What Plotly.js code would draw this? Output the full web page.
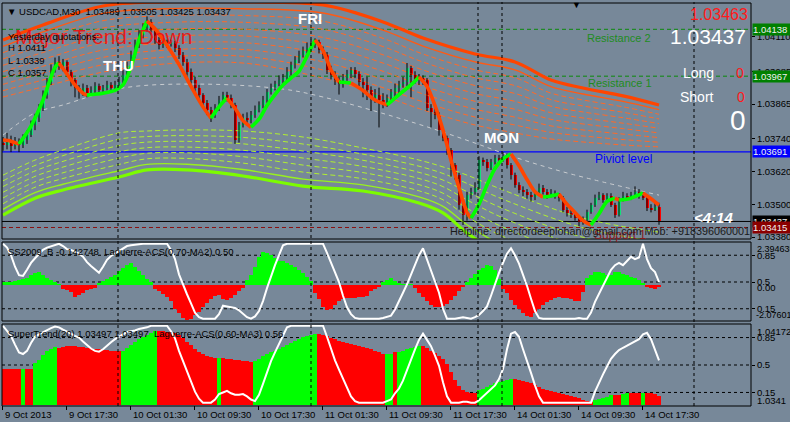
<!DOCTYPE html>
<html><head><meta charset="utf-8">
<script src="https://cdn.plot.ly/plotly-3.0.1.min.js"></script>
<style>html,body{margin:0;padding:0;background:#778899;}#chart{width:790px;height:422px;}</style>
</head><body><div id="chart"></div>
<script>
// ---------------- DATA ----------------
const firstOpen = 1.03725;
const closes = [1.03716,1.03734,1.03712,1.03727,1.03716,1.03734,1.03752,1.03789,1.03814,1.03851,
1.03898,1.03946,1.03990,1.04019,1.04004,1.04019,1.03982,1.03953,1.03924,1.03909,
1.03924,1.03906,1.03917,1.03931,1.03917,1.03924,1.03935,1.03924,1.03935,1.03946,
1.03971,1.04004,1.04044,1.04081,1.04117,1.04143,1.04165,1.04136,1.04099,1.04081,
1.04092,1.04084,1.04088,1.04070,1.04044,1.04019,1.03982,1.03953,1.03924,1.03898,
1.03869,1.03844,1.03825,1.03851,1.03880,1.03898,1.03887,1.03862,1.03734,1.03789,
1.03814,1.03807,1.03825,1.03844,1.03862,1.03880,1.03909,1.03924,1.03938,1.03953,
1.03960,1.03982,1.04008,1.04026,1.04044,1.04063,1.04070,1.04081,1.04092,1.04063,
1.04044,1.03990,1.03971,1.03953,1.03938,1.03960,1.03975,1.03990,1.03975,1.03946,
1.03935,1.03917,1.03887,1.03898,1.03880,1.03869,1.03887,1.03909,1.03924,1.03938,
1.03946,1.03997,1.03971,1.03953,1.03960,1.03953,1.03851,1.03836,1.03825,1.03771,
1.03741,1.03698,1.03643,1.03606,1.03497,1.03460,1.03533,1.03544,1.03559,1.03661,
1.03654,1.03632,1.03654,1.03668,1.03661,1.03676,1.03643,1.03606,1.03570,1.03552,
1.03544,1.03533,1.03526,1.03537,1.03559,1.03544,1.03533,1.03541,1.03530,1.03522,
1.03479,1.03468,1.03460,1.03449,1.03434,1.03442,1.03471,1.03497,1.03522,1.03533,
1.03515,1.03530,1.03497,1.03460,1.03515,1.03530,1.03522,1.03533,1.03544,1.03530,
1.03522,1.03486,1.03479,1.03489,1.03437];
const highs = [1.03745,1.03760,1.03750,1.03745,1.03740,1.03755,1.03770,1.03805,1.03830,1.03865,
1.03915,1.03960,1.04010,1.04035,1.04040,1.04030,1.04025,1.03990,1.03960,1.03935,
1.03940,1.03935,1.03930,1.03945,1.03940,1.03935,1.03950,1.03945,1.03950,1.03965,
1.03990,1.04020,1.04060,1.04100,1.04135,1.04160,1.04185,1.04175,1.04145,1.04110,
1.04105,1.04100,1.04100,1.04095,1.04080,1.04055,1.04030,1.03995,1.03965,1.03935,
1.03905,1.03880,1.03855,1.03865,1.03895,1.03910,1.03910,1.03900,1.03870,1.03800,
1.03830,1.03835,1.03840,1.03860,1.03875,1.03895,1.03920,1.03940,1.03950,1.03970,
1.03975,1.04000,1.04020,1.04040,1.04060,1.04075,1.04090,1.04100,1.04105,1.04100,
1.04075,1.04055,1.04005,1.03985,1.03965,1.03975,1.03990,1.04000,1.04000,1.03985,
1.03960,1.03965,1.03930,1.03920,1.03925,1.03905,1.03900,1.03920,1.03940,1.03950,
1.03965,1.04015,1.04005,1.03985,1.03975,1.03970,1.03960,1.03865,1.03850,1.03835,
1.03780,1.03750,1.03705,1.03650,1.03615,1.03505,1.03545,1.03560,1.03580,1.03675,
1.03670,1.03665,1.03665,1.03680,1.03680,1.03690,1.03685,1.03650,1.03615,1.03580,
1.03565,1.03555,1.03545,1.03550,1.03575,1.03570,1.03555,1.03555,1.03550,1.03540,
1.03530,1.03490,1.03480,1.03470,1.03455,1.03455,1.03480,1.03505,1.03535,1.03545,
1.03540,1.03540,1.03540,1.03505,1.03525,1.03545,1.03540,1.03545,1.03565,1.03555,
1.03545,1.03530,1.03500,1.03505,1.03505];
const lows = [1.03695,1.03700,1.03690,1.03700,1.03690,1.03705,1.03720,1.03745,1.03770,1.03800,
1.03840,1.03885,1.03935,1.03980,1.03990,1.03985,1.03965,1.03930,1.03890,1.03885,
1.03895,1.03890,1.03895,1.03905,1.03905,1.03905,1.03915,1.03910,1.03915,1.03920,
1.03935,1.03960,1.03995,1.04035,1.04070,1.04105,1.04130,1.04120,1.04085,1.04065,
1.04070,1.04070,1.04075,1.04055,1.04030,1.04005,1.03970,1.03940,1.03905,1.03880,
1.03850,1.03825,1.03800,1.03815,1.03840,1.03870,1.03875,1.03850,1.03720,1.03725,
1.03780,1.03790,1.03795,1.03815,1.03835,1.03850,1.03870,1.03900,1.03915,1.03930,
1.03940,1.03950,1.03970,1.03995,1.04015,1.04035,1.04050,1.04060,1.04070,1.04050,
1.04030,1.03975,1.03955,1.03935,1.03900,1.03925,1.03950,1.03960,1.03960,1.03930,
1.03890,1.03880,1.03840,1.03870,1.03780,1.03850,1.03855,1.03875,1.03890,1.03905,
1.03925,1.03930,1.03890,1.03940,1.03935,1.03935,1.03840,1.03780,1.03810,1.03750,
1.03730,1.03680,1.03600,1.03590,1.03480,1.03424,1.03440,1.03520,1.03535,1.03555,
1.03640,1.03620,1.03625,1.03645,1.03650,1.03655,1.03630,1.03590,1.03560,1.03540,
1.03530,1.03520,1.03510,1.03515,1.03530,1.03535,1.03520,1.03525,1.03520,1.03510,
1.03470,1.03455,1.03450,1.03440,1.03420,1.03425,1.03435,1.03465,1.03490,1.03515,
1.03505,1.03505,1.03490,1.03450,1.03455,1.03510,1.03515,1.03515,1.03525,1.03520,
1.03515,1.03475,1.03470,1.03475,1.03425];

// smoothed trend line (turning points), direction of the segment that follows
const trendBar = [0,2,4,7,10,13,14,16,18,20,21,25,28,30,32,34,36,38,41,44,47,50,52,54,56,58,60,62,64,66,68,70,72,74,76,78,80,82,84,87,90,93,96,99,102,104,106,108,110,112,114,116,117,119,121,123,125,127,129,131,133,135,137,139,141,143,145,147,149,151,153,154,157,160,162,164];
const trendPrice = [1.03734,1.03730,1.03719,1.03785,1.03880,1.04000,1.04015,1.03975,1.03935,1.03905,1.03898,1.03905,1.03915,1.03935,1.04000,1.04100,1.04168,1.04140,1.04080,1.04010,1.03930,1.03855,1.03814,1.03855,1.03887,1.03850,1.03805,1.03781,1.03810,1.03860,1.03900,1.03935,1.03960,1.03985,1.04040,1.04099,1.04060,1.03990,1.03946,1.03942,1.03915,1.03880,1.03862,1.03900,1.03935,1.03964,1.03930,1.03860,1.03771,1.03660,1.03560,1.03470,1.03449,1.03500,1.03570,1.03630,1.03665,1.03683,1.03640,1.03590,1.03545,1.03526,1.03530,1.03537,1.03500,1.03470,1.03440,1.03424,1.03465,1.03510,1.03522,1.03515,1.03522,1.03541,1.03520,1.03497];
const trendDir = ['d','d','u','u','u','u','d','d','d','d','u','u','u','u','u','u','d','d','d','d','d','d','u','u','d','d','d','u','u','u','u','u','u','u','u','d','d','d','u','d','d','d','u','u','u','d','d','d','d','d','d','d','u','u','u','u','u','d','d','d','d','u','u','d','d','d','d','u','u','u','d','u','u','d','d','d'];

// channel bands (read at key bars)
const orangeBars  = [0,10,25,40,60,80,95,105,118,128,137,145,155,164];
const orangeOuter = [1.04099,1.04154,1.04223,1.04238,1.04238,1.04227,1.04165,1.04106,1.04048,1.04019,1.03953,1.03924,1.03895,1.03862];
const orangeInner = [1.03891,1.03928,1.03982,1.04011,1.04015,1.03960,1.03895,1.03844,1.03789,1.03760,1.03738,1.03727,1.03716,1.03709];
const greenBars   = [0,8,15,29,36,46,60,75,90,104,110,116,125,145,164];
const greenOuter  = [1.03460,1.03522,1.03552,1.03599,1.03625,1.03625,1.03603,1.03566,1.03548,1.03504,1.03468,1.03395,1.03314,1.03205,1.03150];
const greenInner  = [1.03606,1.03661,1.03698,1.03760,1.03767,1.03771,1.03767,1.03745,1.03705,1.03661,1.03636,1.03606,1.03552,1.03449,1.03398];
const centerBars  = [0,8,15,30,50,70,80,103,118,127,141,164];
const centerLine  = [1.03752,1.03833,1.03862,1.03924,1.03938,1.03920,1.03891,1.03796,1.03723,1.03676,1.03614,1.03533];

// levels
const resistance2 = 1.04138, resistance1 = 1.03967, pivotLevel = 1.03691, support1 = 1.03415;
const priceTicks = [1.04110,1.03985,1.03865,1.03740,1.03620,1.03500,1.03380];
const priceTickText = ['1.04110','1.03985','1.03865','1.03740','1.03620','1.03500','1.03380'];

// indicator 1: SS2009_B histogram and Laguerre-ACS(0.70)
const ssb = [0.17,0.17,0.17,0.23,0.29,0.34,0.40,0.57,0.69,0.74,
0.57,0.40,0.29,0.17,0.06,-0.23,-0.29,-0.40,-0.69,-0.57,
-0.46,-0.29,-0.23,-0.17,0.11,0.23,0.34,0.46,0.57,0.80,
0.97,1.15,1.26,1.03,0.80,0.57,0.34,0.17,-0.23,-0.34,
-0.52,-0.69,-0.92,-1.38,-1.60,-1.89,-2.01,-1.95,-1.72,-1.55,
-1.26,-1.03,-0.80,-0.63,-0.57,-0.80,-0.86,-0.74,-0.57,-0.34,
-0.17,0.29,0.57,1.03,1.60,1.89,1.83,1.72,1.55,1.38,
1.38,1.26,1.15,1.03,0.86,0.69,0.46,0.23,-0.46,-0.80,
-1.26,-1.43,-1.38,-1.15,-0.92,-0.80,-0.74,-0.74,-0.74,-0.69,
-0.69,-0.63,-0.34,-0.23,-0.11,0.17,0.29,0.40,0.23,0.11,
0.06,0.06,0.06,-0.17,-0.46,-0.69,-0.92,-1.15,-1.26,-1.26,
-1.20,-1.09,-0.86,-0.63,-0.34,-0.11,0.17,0.40,0.63,0.86,
0.97,1.15,1.09,0.86,0.34,-0.23,-0.46,-0.86,-1.15,-1.38,
-1.60,-1.78,-1.83,-1.60,-1.38,-1.15,-0.97,-0.86,-0.74,-0.69,
-0.74,-0.74,-0.80,-0.92,-0.92,-0.40,0.40,0.57,0.74,0.74,
0.69,0.57,0.57,0.74,0.74,0.63,0.57,0.46,0.40,0.29,
0.11,-0.11,-0.17,-0.23,-0.14];
const lag1 = [1.0,0.95,0.85,0.70,0.59,0.58,0.66,0.75,0.81,0.87,
0.92,0.95,0.97,0.98,1.0,0.97,0.93,0.92,0.90,0.87,
0.83,0.76,0.71,0.66,0.62,0.70,0.79,0.84,0.87,0.91,
0.94,0.97,0.98,0.99,1.0,1.0,1.0,1.0,1.0,1.0,
1.0,1.0,0.92,0.80,0.60,0.46,0.34,0.22,0.10,0.04,
0.02,0.02,0.02,0.02,0.08,0.19,0.18,0.17,0.16,0.13,
0.08,0.04,0.02,0.05,0.12,0.25,0.42,0.58,0.72,0.85,
0.98,1.0,1.0,1.0,1.0,1.0,1.0,1.0,1.0,1.0,
1.0,0.88,0.75,0.62,0.50,0.32,0.17,0.08,0.03,0.02,
0.02,0.02,0.02,0.02,0.02,0.03,0.05,0.06,0.14,0.24,
0.36,0.47,0.60,0.72,0.85,0.94,0.80,0.64,0.50,0.36,
0.15,0.02,0.02,0.02,0.03,0.04,0.03,0.02,0.04,0.07,
0.12,0.18,0.32,0.48,0.62,0.75,0.87,0.94,0.85,0.74,
0.60,0.45,0.28,0.12,0.03,0.02,0.02,0.02,0.02,0.02,
0.02,0.02,0.02,0.02,0.03,0.02,0.02,0.10,0.24,0.35,
0.44,0.55,0.66,0.72,0.75,0.72,0.78,0.83,0.80,0.82,
1.0,0.80,0.68,0.63,0.50];

// indicator 2: SuperTrend(20) histogram and Laguerre-ACS(0.60)
const superTrend = [1.03757,1.03757,1.03757,1.03757,1.03757,1.03757,1.03757,1.03757,1.03806,1.03835,
1.03883,1.03921,1.03941,1.03960,1.03950,1.03960,1.03970,1.03970,1.03970,1.03960,
1.03960,1.03950,1.03950,1.03941,1.03941,1.03931,1.03931,1.03921,1.03921,1.03921,
1.03921,1.03950,1.03979,1.04008,1.04037,1.04057,1.04076,1.04095,1.04114,1.04114,
1.04114,1.04105,1.04105,1.04095,1.04076,1.04047,1.04008,1.03979,1.03941,1.03912,
1.03893,1.03873,1.03864,1.03854,1.03854,1.03854,1.03844,1.03844,1.03835,1.03835,
1.03825,1.03825,1.03815,1.03825,1.03844,1.03873,1.03893,1.03912,1.03921,1.03941,
1.03960,1.03979,1.03999,1.04018,1.04037,1.04057,1.04066,1.04076,1.04086,1.04086,
1.04076,1.04066,1.04047,1.04037,1.04018,1.04008,1.03999,1.03989,1.03979,1.03970,
1.03960,1.03950,1.03941,1.03921,1.03912,1.03893,1.03893,1.03893,1.03912,1.03912,
1.03921,1.03941,1.03950,1.03960,1.03970,1.03970,1.03950,1.03921,1.03902,1.03873,
1.03844,1.03796,1.03728,1.03651,1.03593,1.03555,1.03535,1.03526,1.03526,1.03555,
1.03564,1.03584,1.03603,1.03622,1.03632,1.03642,1.03651,1.03661,1.03661,1.03651,
1.03642,1.03632,1.03622,1.03603,1.03584,1.03564,1.03555,1.03545,1.03535,1.03526,
1.03516,1.03507,1.03497,1.03487,1.03478,1.03458,1.03449,1.03439,1.03458,1.03468,
1.03478,1.03487,1.03507,1.03507,1.03507,1.03516,1.03526,1.03526,1.03526,1.03526,
1.03526,1.03526,1.03526,1.03516,1.03497];
const superTrendSide = ('RRRRR'+'G'+'RR'+'GGGGGG'+'RRRRRRRRRRRRRRRR'+'GGGGGGGGG'+'RRRRRRRRRRRRRRR'+'G'+'RRRRRRRR'+
  'GGGGGGGGGGGGGGGG'+'RRRRRRRRRRRRRRRRR'+'GG'+'R'+'GGGGGG'+'RRRRRRRRRRRRRR'+'GGGGGGGGG'+'RRRRRRRRRRRRRRRRRRRR'+
  'GGGGG'+'RR'+'GG'+'RRR'+'G'+'RRRR').split('');
const lag2 = [1.0,0.94,0.87,0.76,0.66,0.64,0.68,0.78,0.86,0.89,
0.92,0.95,0.97,0.99,0.98,0.95,0.93,0.90,0.87,0.85,
0.80,0.75,0.71,0.68,0.67,0.70,0.75,0.79,0.83,0.86,
0.89,0.92,0.93,0.94,0.96,0.97,0.98,1.0,1.0,1.0,
1.0,1.0,0.93,0.84,0.68,0.55,0.40,0.27,0.16,0.07,
0.02,0.02,0.02,0.06,0.13,0.15,0.17,0.14,0.12,0.12,
0.13,0.10,0.06,0.04,0.12,0.26,0.40,0.55,0.66,0.76,
0.88,0.98,1.0,1.0,1.0,1.0,1.0,1.0,1.0,1.0,
1.0,0.86,0.70,0.56,0.44,0.33,0.20,0.10,0.04,0.02,
0.02,0.02,0.02,0.02,0.02,0.02,0.04,0.06,0.14,0.20,
0.30,0.44,0.58,0.70,0.82,0.90,0.82,0.74,0.62,0.49,
0.28,0.10,0.02,0.02,0.02,0.03,0.03,0.02,0.02,0.05,
0.10,0.14,0.19,0.24,0.32,0.45,0.70,0.90,0.92,0.86,
0.70,0.56,0.40,0.24,0.10,0.02,0.02,0.02,0.02,0.02,
0.02,0.02,0.02,0.02,0.02,0.02,0.02,0.02,0.16,0.28,
0.38,0.48,0.58,0.64,0.69,0.72,0.75,0.78,0.81,0.83,
0.89,0.91,0.83,0.70,0.56];

// time axis
const tickBars = [0,16,32,48,64,80,96,112,128,144,160];
const tickLabels = ['9 Oct 2013','9 Oct 17:30','10 Oct 01:30','10 Oct 09:30','10 Oct 17:30','11 Oct 01:30','11 Oct 09:30','11 Oct 17:30','14 Oct 01:30','14 Oct 09:30','14 Oct 17:30'];
const daySeparators = [28.75, 77, 118.75, 124.75, 172.75];

// ---------------- BUILD ----------------
const W = 790, H = 422;
const px = x => x / W, py = y => 1 - y / H;
const FONT = 'Liberation Sans, Arial, sans-serif';
const BG = '#778899';
const n = closes.length;
const bars = closes.map((_, i) => i);
const opens = [firstOpen].concat(closes.slice(0, -1));
const traces = [];

function band(keyBars, outer, inner, count, thickColor, thinColor, dashColor) {
  for (let k = count - 1; k >= 0; k--) {
    const y = outer.map((o, j) => o + (inner[j] - o) * k / (count - 1));
    let line;
    if (k === 0) line = {color: thickColor, width: 3.2, shape: 'spline'};
    else if (k === 1) line = {color: thinColor, width: 1.4, shape: 'spline'};
    else line = {color: dashColor, width: 1, dash: '5px,3px', shape: 'spline'};
    traces.push({type: 'scatter', mode: 'lines', x: keyBars, y: y, xaxis: 'x', yaxis: 'y', line: line, hoverinfo: 'skip'});
  }
}
band(orangeBars, orangeOuter, orangeInner, 10, '#FF4500', '#FF5A14', '#FF6A28');
band(greenBars, greenOuter, greenInner, 8, '#7CFC00', '#98F020', '#B0F030');
traces.push({type: 'scatter', mode: 'lines', x: centerBars, y: centerLine, xaxis: 'x', yaxis: 'y',
  line: {color: '#C8CCD0', width: 1, dash: '4px,4px', shape: 'spline'}, hoverinfo: 'skip'});

// wicks
const wx = [], wy = [];
for (let i = 0; i < n; i++) { wx.push(i, i, null); wy.push(lows[i], highs[i], null); }
traces.push({type: 'scatter', mode: 'lines', x: wx, y: wy, xaxis: 'x', yaxis: 'y', line: {color: '#000', width: 1}, hoverinfo: 'skip'});
// bodies
traces.push({type: 'bar', x: bars, xaxis: 'x', yaxis: 'y',
  base: bars.map(i => Math.min(opens[i], closes[i])),
  y: bars.map(i => Math.max(Math.abs(closes[i] - opens[i]), 0.00003)),
  width: 0.75,
  marker: {color: bars.map(i => closes[i] >= opens[i] ? '#14E07A' : '#FF0000'), line: {width: 0}},
  hoverinfo: 'skip'});

// trend line segments
const trendColor = {u: '#00FF00', d: '#FF4500'};
const segs = [];
let cur = {c: trendDir[0], x: [trendBar[0]], y: [trendPrice[0]]};
for (let i = 1; i < trendBar.length; i++) {
  cur.x.push(trendBar[i]); cur.y.push(trendPrice[i]);
  if (i < trendBar.length - 1 && trendDir[i] !== cur.c) {
    segs.push(cur);
    cur = {c: trendDir[i], x: [trendBar[i]], y: [trendPrice[i]]};
  }
}
segs.push(cur);
segs.forEach(s => traces.push({type: 'scatter', mode: 'lines', x: s.x, y: s.y, xaxis: 'x', yaxis: 'y',
  line: {color: trendColor[s.c], width: 3.6, shape: 'spline', smoothing: 0.8}, hoverinfo: 'skip'}));

// panel 1
traces.push({type: 'bar', x: bars, y: ssb, xaxis: 'x', yaxis: 'y2', width: 1,
  marker: {color: ssb.map(v => v >= 0 ? '#00FF00' : '#FF0000'), line: {width: 0}}, hoverinfo: 'skip'});
traces.push({type: 'scatter', mode: 'lines', x: bars, y: lag1, xaxis: 'x', yaxis: 'y3',
  line: {color: '#FFFFFF', width: 2}, hoverinfo: 'skip'});
// panel 2
const stBase = 1.0341, stTop = 1.04172;
traces.push({type: 'bar', x: bars, y: superTrend.map(v => v - stBase), base: stBase, xaxis: 'x', yaxis: 'y4', width: 1,
  marker: {color: superTrendSide.map(s => s === 'G' ? '#00FF00' : '#FF0000'), line: {width: 0}}, hoverinfo: 'skip'});
traces.push({type: 'scatter', mode: 'lines', x: bars, y: lag2, xaxis: 'x', yaxis: 'y5',
  line: {color: '#FFFFFF', width: 2}, hoverinfo: 'skip'});

// ---------------- LAYOUT ----------------
const X0 = px(2), X1 = px(751);
const mainDom = [py(239), py(3)], p1Dom = [py(321), py(243)], p2Dom = [py(405), py(325)];
const tickFont = {family: FONT, size: 9.5, color: '#000'};
const subTicks = {tickvals: [0.15, 0.5, 0.85], ticktext: ['0.15', '0.5', '0.85']};

const shapes = [];
function hline(yref, y, color, width, dash) {
  shapes.push({type: 'line', xref: 'paper', x0: X0, x1: X1, yref: yref, y0: y, y1: y, line: {color: color, width: width, dash: dash}, layer: 'below'});
}
hline('y', resistance2, '#0A8A0A', 1, '4px,3px');
hline('y', resistance1, '#0A8A0A', 1, '4px,3px');
hline('y', pivotLevel, '#0000FF', 1.3, 'solid');
hline('y', closes[n - 1], '#000000', 1, 'solid');
hline('y', support1, '#8B1010', 1, '4px,3px');
[0.15, 0.5, 0.85].forEach(v => { hline('y3', v, '#000', 1, '3px,3px'); hline('y5', v, '#000', 1, '3px,3px'); });
daySeparators.forEach(b => shapes.push({type: 'line', xref: 'x', x0: b, x1: b, yref: 'paper', y0: py(406), y1: py(2),
  line: {color: '#000', width: 1, dash: '3px,3px'}}));
[[3, 239], [242, 321], [324, 406]].forEach(([t, b]) => shapes.push({type: 'rect', xref: 'paper', yref: 'paper',
  x0: X0, x1: X1, y0: py(b), y1: py(t), line: {color: '#000', width: 1}, fillcolor: 'rgba(0,0,0,0)'}));

const annotations = [];
function txt(text, x, y, size, color, opts) {
  annotations.push(Object.assign({text: text, xref: 'paper', yref: 'paper', x: px(x), y: py(y), xanchor: 'left', yanchor: 'middle',
    showarrow: false, font: {family: FONT, size: size, color: color}}, opts || {}));
}
function box(text, price, bg) {
  annotations.push({text: text, xref: 'paper', yref: 'y', x: px(752), y: price, xanchor: 'left', yanchor: 'middle',
    showarrow: false, bgcolor: bg, width: 37, height: 11, align: 'left', borderpad: 0,
    font: {family: FONT, size: 9.5, color: '#F0F0F0'}});
}
const fmt = v => v.toFixed(5);
txt('Major Trend: Down', 13, 36, 21, 'rgba(235,20,20,0.95)');
txt('\u25BC USDCAD,M30  ' + fmt(opens[n - 1]) + ' ' + fmt(highs[n - 1]) + ' ' + fmt(lows[n - 1]) + ' ' + fmt(closes[n - 1]), 5, 12, 9.5, '#000');
txt('Yesterday quotations:', 6, 37, 9.5, '#000');
txt('H 1.0411', 6, 48, 9.5, '#000');
txt('L 1.0339', 6, 60, 9.5, '#000');
txt('C 1.0357', 6, 72, 9.5, '#000');
txt('<b>THU</b>', 118, 66, 15, '#FFFFFF', {xanchor: 'center'});
txt('<b>FRI</b>', 310, 18, 15, '#FFFFFF', {xanchor: 'center'});
txt('<b>MON</b>', 502, 138, 15, '#FFFFFF', {xanchor: 'center'});
txt('Resistance 2', 585, 38, 11, '#1E8C1E');
txt('Resistance 1', 586, 83, 11, '#1E8C1E');
txt('Piviot level', 593, 159, 12, '#0000FF');
txt('1.03463', 750, 14, 16, '#FF1A1A', {xanchor: 'right'});
txt(fmt(closes[n - 1]), 748, 37, 21, '#FFFFFF', {xanchor: 'right'});
txt('Long', 716, 73, 14, '#FFFFFF', {xanchor: 'right'});
txt('0', 740, 73, 14, '#FF1A1A', {xanchor: 'center'});
txt('Short', 716, 97, 14, '#FFFFFF', {xanchor: 'right'});
txt('0', 741, 97, 14, '#FF1A1A', {xanchor: 'center'});
txt('0', 738, 120, 28, '#FFFFFF', {xanchor: 'center'});
txt('<b><i>&lt;4:14</i></b>', 692, 217, 15, '#FFFFFF');
txt('Support 1', 592, 235, 12, '#8B1A1A');
txt('Helpline: directordeeplohan@gmail.com Mob: +918396060001', 448, 231, 10.8, '#1A1A1A');
txt('\u25BC', 576, 5, 9, '#000', {xanchor: 'center'});
txt('SS2009_B -0.142748  Laguerre-ACS(0.70-MA2) 0.50', 6, 251, 9.5, '#000');
txt('SuperTrend(20) 1.03497 1.03497  Laguerre-ACS(0.60-MA3) 0.56', 6, 333, 9.5, '#000');
txt('2.394635', 755, 249, 9, '#000');
txt('0.00', 755, 287, 9.5, '#000');
txt('-2.076018', 754, 315, 9, '#000');
txt('1.04172', 755, 331, 9.5, '#000');
txt('1.0341', 755, 400, 9.5, '#000');
box('1.04138', resistance2, '#008000');
box('1.03967', resistance1, '#008000');
box('1.03691', pivotLevel, '#0000FF');
box(fmt(closes[n - 1]), closes[n - 1], '#000000');
box('1.03415', support1, '#8B0000');
tickBars.forEach((b, i) => annotations.push({text: tickLabels[i], xref: 'x', yref: 'paper', x: b - 0.25, y: py(414),
  xanchor: 'left', yanchor: 'middle', xshift: 1, showarrow: false, font: {family: FONT, size: 9.5, color: '#000'}}));

const noAxis = {showgrid: false, zeroline: false};
const layout = {
  width: W, height: H, margin: {l: 0, r: 0, t: 0, b: 0},
  paper_bgcolor: BG, plot_bgcolor: BG, showlegend: false,
  barmode: 'overlay', bargap: 0,
  font: {family: FONT, size: 9.5, color: '#000'},
  xaxis: Object.assign({domain: [X0, X1], range: [-0.25, 187], anchor: 'y4', showticklabels: false,
    ticks: 'outside', ticklen: 4, tickcolor: '#000', tickvals: tickBars.map(b => b - 0.25), showline: false}, noAxis),
  yaxis: Object.assign({domain: mainDom, range: [1.03373, 1.04234], anchor: 'x', side: 'right',
    tickvals: priceTicks, ticktext: priceTickText, ticks: 'outside', ticklen: 3, tickcolor: '#000', tickfont: tickFont}, noAxis),
  yaxis2: Object.assign({domain: p1Dom, range: [-2.076018, 2.394635], anchor: 'x', side: 'right', showticklabels: false, ticks: ''}, noAxis),
  yaxis3: Object.assign({overlaying: 'y2', range: [-0.01, 1.01], anchor: 'x', side: 'right',
    ticks: 'outside', ticklen: 3, tickcolor: '#000', tickfont: tickFont}, subTicks, noAxis),
  yaxis4: Object.assign({domain: p2Dom, range: [stBase, stTop], anchor: 'x', side: 'right', showticklabels: false, ticks: ''}, noAxis),
  yaxis5: Object.assign({overlaying: 'y4', range: [-0.01, 1.01], anchor: 'x', side: 'right',
    ticks: 'outside', ticklen: 3, tickcolor: '#000', tickfont: tickFont}, subTicks, noAxis),
  shapes: shapes, annotations: annotations
};
Plotly.newPlot('chart', traces, layout, {displayModeBar: false, staticPlot: true});
</script></body></html>
